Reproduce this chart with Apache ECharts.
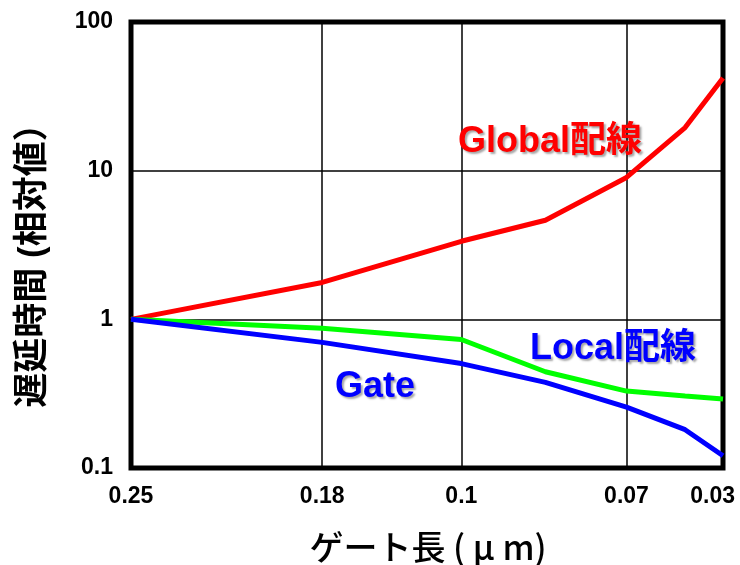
<!DOCTYPE html>
<html><head><meta charset="utf-8">
<script src="https://cdn.jsdelivr.net/npm/echarts@6/dist/echarts.min.js"></script>
<style>html,body{margin:0;padding:0;background:#fff}#c{width:740px;height:565px}</style>
</head><body><div id="c"></div>
<script>
// x positions (relative scale 0..100 across the axis) for each data point
const xPositions = [0, 32.3, 55.8, 70.0, 83.7, 93.6, 100];
// gate-length tick labels and their positions on the same scale
const tickLabels = ['0.25', '0.18', '0.1', '0.07', '0.03'];
const tickPositions = [0, 32.3, 55.8, 83.7, 100];
const gridPositions = [32.3, 55.8, 83.7];
// relative delay values
const globalWiring = [1.0, 1.77, 3.35, 4.64, 9.0, 19.5, 42];
const localWiring  = [1.0, 0.872, 0.732, 0.444, 0.329, 0.305, 0.291];
const gateDelay    = [1.0, 0.70, 0.504, 0.377, 0.257, 0.181, 0.121];
const yTicks = [0.1, 1, 10, 100];

const F = '"Liberation Sans", Arial, "Noto Sans CJK JP", sans-serif';
const FJ = '"Noto Sans CJK JP", "Liberation Sans", sans-serif';
const pair = arr => arr.map((v, i) => [xPositions[i], v]);
const shadow = { textShadowColor: 'rgba(0,0,0,0.35)', textShadowOffsetX: 2, textShadowOffsetY: 2, textShadowBlur: 2 };
const chart = echarts.init(document.getElementById('c'));
chart.setOption({
  animation: false,
  backgroundColor: '#fff',
  grid: { left: 131, top: 22, right: 17, bottom: 97, outerBoundsMode: 'none', containLabel: false,
    show: true, borderColor: '#000', borderWidth: 5, backgroundColor: 'transparent' },
  xAxis: {
    type: 'value', min: 0, max: 100,
    axisLine: { show: false }, axisTick: { show: false }, splitLine: { show: false },
    axisLabel: {
      customValues: tickPositions, margin: 17, hideOverlap: false,
      alignMaxLabel: 'right', padding: [0, -12, 0, -12],
      fontFamily: F, fontSize: 23, fontWeight: 'bold', color: '#000',
      formatter: v => { const i = tickPositions.indexOf(v); return i >= 0 ? tickLabels[i] : ''; }
    }
  },
  yAxis: {
    type: 'log', logBase: 10, min: 0.1, max: 100,
    axisLine: { show: false }, axisTick: { show: false },
    splitLine: { show: true, lineStyle: { color: '#000', width: 1.5 } },
    axisLabel: {
      margin: 18, fontFamily: F, fontSize: 23, fontWeight: 'bold', color: '#000',
      formatter: v => String(yTicks.find(t => Math.abs(Math.log10(t) - Math.log10(v)) < 1e-6) ?? v)
    }
  },
  series: [
    {
      type: 'line', data: pair(globalWiring), symbol: 'none', z: 3,
      lineStyle: { color: '#ff0000', width: 5 },
      markLine: {
        silent: true, symbol: 'none', label: { show: false }, z: 1,
        lineStyle: { color: '#000', width: 1.5, type: 'solid' },
        data: gridPositions.map(x => ({ xAxis: x }))
      }
    },
    { type: 'line', data: pair(localWiring), symbol: 'none', z: 3, lineStyle: { color: '#00ff00', width: 5 } },
    { type: 'line', data: pair(gateDelay), symbol: 'none', z: 4, lineStyle: { color: '#0000ff', width: 5 } }
  ],
  graphic: [
    { type: 'text', x: 33, y: 257, rotation: Math.PI / 2,
      style: { text: '遅延時間 (相対値）', fontFamily: F, fontSize: 35, fontWeight: 'bold', fill: '#000', align: 'center', verticalAlign: 'middle' } },
    { type: 'text', x: 428, y: 547,
      style: { text: 'ゲート長 ( μ m)', fontFamily: FJ, fontSize: 34, fontWeight: 500, fill: '#000', align: 'center', verticalAlign: 'middle' } },
    { type: 'text', x: 550, y: 142, z: 10,
      style: Object.assign({ text: 'Global配線', fontFamily: F, fontSize: 36, fontWeight: 'bold', fill: '#ff0000', align: 'center', verticalAlign: 'middle' }, shadow) },
    { type: 'text', x: 613, y: 349, z: 10,
      style: Object.assign({ text: 'Local配線', fontFamily: F, fontSize: 36, fontWeight: 'bold', fill: '#0000ff', align: 'center', verticalAlign: 'middle' }, shadow) },
    { type: 'text', x: 375, y: 387, z: 10,
      style: Object.assign({ text: 'Gate', fontFamily: F, fontSize: 36, fontWeight: 'bold', fill: '#0000ff', align: 'center', verticalAlign: 'middle' }, shadow) }
  ]
});
</script></body></html>
